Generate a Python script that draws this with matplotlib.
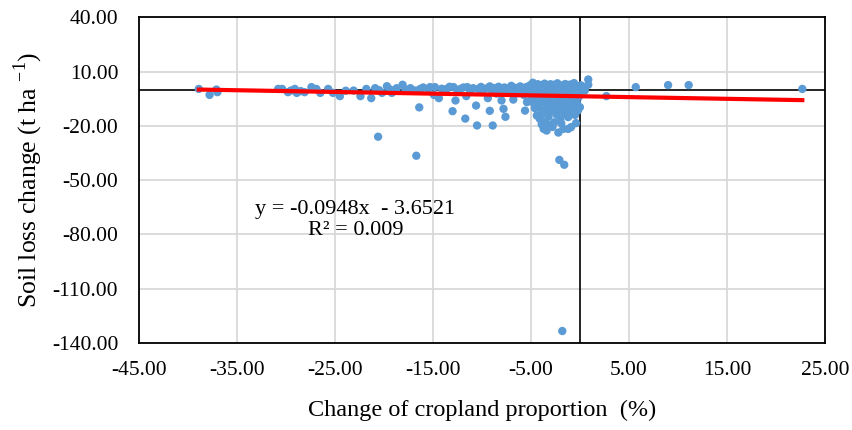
import matplotlib
matplotlib.use("Agg")
import matplotlib.pyplot as plt
import numpy as np

plt.rcParams['font.family'] = ['Liberation Serif', 'DejaVu Serif']
plt.rcParams['mathtext.fontset'] = 'custom'
plt.rcParams['mathtext.rm'] = 'Liberation Serif'
plt.rcParams['axes.unicode_minus'] = False

# points, grouped by region
tail_x = [-38.9, -37.8, -37.1, -37.0]
tail_y = [0.4, -2.9, 0.05, -1.4]

sparse_x = [-30.8, -30.4, -29.8, -29.5, -29.1, -28.9, -28.5, -28.1, -27.4, -26.9, -26.5, -25.7,
            -25.2, -24.5, -23.9, -23.1, -22.4, -21.8, -21.3, -20.9, -20.5, -20.2, -19.7, -19.4,
            -19.2, -18.7, -18.1, -17.8, -17.3, -16.8, -16.3, -16.0]
sparse_y = [0.4, 0.4, -1.4, -0.5, 0.4, -1.8, -0.8, -1.4, 1.4, 0.4, -1.8, 0.4,
            -1.8, -3.6, -0.6, -0.5, -3.6, 0.4, -4.7, 0.8, -0.3, -1.8, 1.9, 0.2,
            -1.8, 0.8, 2.7, 0.0, 0.8, -0.5, 0.4, 1.2]

band_x = [-15.5, -15.3, -14.8, -14.9, -14.4, -14.1, -13.8, -13.6, -13.3, -12.9, -12.7, -12.5,
          -12.2, -11.9, -11.6, -11.5, -11.2, -10.9, -10.6, -10.4, -10.1, -9.9, -9.6, -9.4,
          -9.2, -9.0, -8.8, -8.5, -8.3, -8.0, -8.0, -7.7, -7.5, -7.3, -7.0, -6.8,
          -6.8, -6.6, -6.3, -6.1, -5.9, -5.7, -5.5, -5.3, -5.1]
band_y = [0.3, 1.4, 1.4, -2.9, -4.7, 0.5, -0.8, 0.4, 1.6, 1.4, -6.0, -0.5,
          0.4, 1.2, -3.6, 1.4, -0.6, 0.8, -8.8, 0.4, 1.5, -1.0, 0.6, -4.7,
          1.8, -0.3, 0.9, -2.2, 1.6, -6.0, 0.2, 1.2, -1.3, 0.7, 2.1, -5.5,
          -0.4, 1.0, -2.0, 1.8, 0.3, -3.0, 1.4, -0.8, 2.4]

low_x = [-20.6, -16.7, -16.4, -13.0, -11.7, -10.5, -9.2, -8.9, -7.8, -7.6, -5.6, -5.4]
low_y = [-26.0, -36.5, -9.8, -11.9, -16.0, -19.8, -11.7, -19.8, -10.6, -15.0, -11.6, -6.9]

top_x = [-4.9, -4.8, -4.7, -4.6, -4.5, -4.4, -4.3, -4.2, -4.1, -4.0, -3.9, -3.8,
         -3.7, -3.6, -3.5, -3.4, -3.3, -3.2, -3.1, -3.0, -2.9, -2.8, -2.7, -2.6,
         -2.5, -2.4, -2.3, -2.2, -2.1, -2.0, -1.9, -1.8, -1.7, -1.6, -1.5, -1.4,
         -1.3, -1.2, -1.1, -1.0, -0.9, -0.8, -0.7, -0.6, -0.5, -0.4, -0.3, -0.2,
         -0.1, 0.0, 0.1, 0.2, 0.4, 0.85, 0.85, 0.5]
top_y = [1.0, 3.8, -0.5, 2.0, -1.8, 0.6, 3.0, -2.6, 1.4, -0.9, 2.5, 0.2,
         -1.5, 3.3, 1.0, -0.4, 2.2, -2.2, 0.8, 3.0, -1.0, 1.6, -0.2, 2.7,
         -1.9, 0.5, 3.5, -0.8, 1.8, -2.8, 0.2, 2.4, -1.3, 1.1, 3.1, -0.5,
         1.9, -2.2, 0.6, 2.8, -1.0, 1.4, -0.2, 3.6, 0.9, -1.6, 2.1, 0.0,
         1.2, -1.2, 2.4, 0.3, 1.0, 5.6, 2.7, -0.5]

mid_x = [-4.9, -4.7, -4.6, -4.5, -4.4, -4.3, -4.2, -4.1, -4.0, -3.9, -3.8, -3.7,
         -3.6, -3.5, -3.4, -3.3, -3.2, -3.1, -3.0, -2.9, -2.8, -2.7, -2.6, -2.5,
         -2.4, -2.3, -2.2, -2.1, -2.0, -1.9, -1.8, -1.7, -1.6, -1.5, -1.4, -1.3,
         -1.2, -1.1, -1.0, -0.9, -0.8, -0.7, -0.6, -0.5, -0.4, -0.3, -0.2, -0.1, 0.0]
mid_y = [-4.0, -7.5, -10.2, -3.2, -14.3, -5.8, -8.8, -16.1, -4.5, -11.8, -6.5, -13.2,
         -18.0, -3.6, -9.5, -5.2, -15.0, -12.4, -7.6, -6.9, -3.8, -10.8, -18.0, -5.8,
         -13.6, -8.2, -4.2, -11.0, -16.1, -6.4, -9.0, -3.5, -13.0, -7.3, -5.0, -10.4,
         -15.2, -4.1, -8.0, -12.5, -6.0, -3.4, -9.2, -14.0, -5.4, -7.6, -11.5, -4.0, -9.7]

deep_x = [-3.9, -3.7, -3.4, -3.0, -2.8, -2.2, -1.9, -1.7, -1.2, -0.9, -0.4, -2.1, -1.6, -1.8]
deep_y = [-19.2, -21.7, -22.6, -19.5, -20.6, -23.7, -18.6, -21.7, -21.7, -20.7, -18.5, -38.8, -41.5, -133.3]

right_x = [2.7, 5.7, 9.0, 11.1, 22.7]
right_y = [-3.6, 1.4, 2.5, 2.5, 0.4]

slope = -0.0948
intercept = -3.6521
r2 = 0.009

x_ticks = [-45, -35, -25, -15, -5, 5, 15, 25]
y_ticks = [40, 10, -20, -50, -80, -110, -140]

x = np.array(tail_x + sparse_x + band_x + low_x + top_x + mid_x + deep_x + right_x)
y = np.array(tail_y + sparse_y + band_y + low_y + top_y + mid_y + deep_y + right_y)

fig = plt.figure(figsize=(8.53, 4.30), dpi=100)
ax = fig.add_axes([0.163, 0.202, 0.804, 0.758])

ax.set_xlim(-45, 25)
ax.set_ylim(-140, 40)
ax.set_xticks(x_ticks)
ax.set_yticks(y_ticks)
ax.set_xticklabels(['%.2f' % t for t in x_ticks])
ax.set_yticklabels(['%.2f' % t for t in y_ticks])
ax.tick_params(axis='both', length=0, labelsize=15.5)
ax.tick_params(axis='y', pad=15)
ax.tick_params(axis='x', pad=13)
ax.grid(True, color='#D9D9D9', linewidth=1.3, zorder=0)
ax.set_axisbelow(True)
for s in ax.spines.values():
    s.set_linewidth(1.3)
    s.set_color('black')

ax.axhline(0, color='black', linewidth=1.2, zorder=1)
ax.axvline(0, color='black', linewidth=1.2, zorder=1)

ax.scatter(x, y, s=36, color='#5B9BD5', edgecolors='none', zorder=2)

lx = np.array([x.min(), x.max()])
ax.plot(lx, slope * lx + intercept, color='#FF0000', linewidth=3.0, zorder=3)

ax.text(-22.9, -72, 'y = %.4fx  - %.4f\nR² = %.3f' % (slope, -intercept, r2),
        ha='center', va='center', fontsize=16, linespacing=1.2, zorder=4)

ax.set_xlabel('Change of cropland proportion  (%)', fontsize=17.5, labelpad=14)
ax.set_ylabel('Soil loss change (t ha $^{\\mathrm{-1}}$)', fontsize=18.5, labelpad=5)

fig.savefig('out.png', dpi=100)
